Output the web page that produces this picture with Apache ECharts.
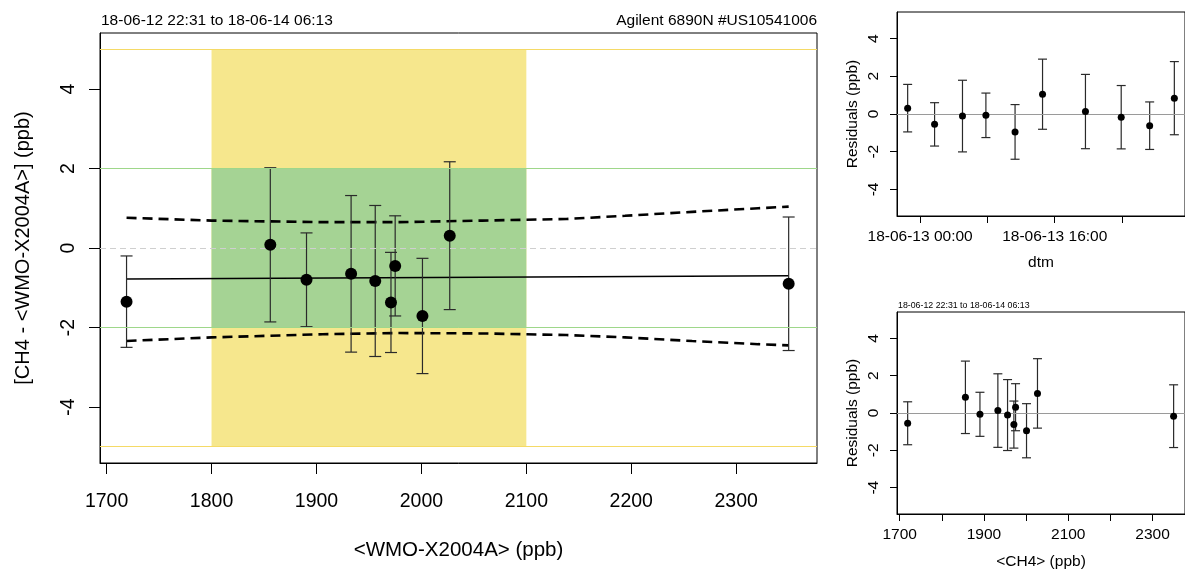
<!DOCTYPE html>
<html><head><meta charset="utf-8">
<script src="https://cdn.jsdelivr.net/npm/echarts@6/dist/echarts.min.js"></script>
<style>html,body{margin:0;padding:0;background:#fff}#c{width:1185px;height:571px}</style>
</head><body><div id="c"></div>
<script>
// ---- data ----
const ch4     = [1719, 1856, 1890.5, 1933, 1956, 1971, 1975, 2001, 2027, 2350];
const diff    = [-1.35, 0.08, -0.80, -0.65, -0.83, -1.37, -0.45, -1.71, 0.31, -0.90];
const errHalf = [1.15, 1.94, 1.18, 1.97, 1.90, 1.26, 1.26, 1.45, 1.86, 1.68];
const resid   = [-0.55, 0.84, -0.07, 0.13, -0.11, -0.62, 0.31, -0.95, 1.05, -0.17];
const dtm     = ['2018-06-13 01:43','2018-06-14 06:13','2018-06-13 07:49','2018-06-13 19:39','2018-06-13 05:02',
                 '2018-06-14 03:17','2018-06-12 22:31','2018-06-13 11:17','2018-06-13 14:33','2018-06-13 23:54'];
const fitX    = [1719, 2350];
const fitY    = [-0.78, -0.70];
const bandX     = [1719, 1800, 1906, 1979, 2058, 2138, 2194, 2258, 2321, 2350];
const bandUpper = [0.76, 0.69, 0.65, 0.65, 0.69, 0.73, 0.81, 0.91, 1.00, 1.04];
const bandLower = [-2.34, -2.25, -2.17, -2.14, -2.15, -2.19, -2.25, -2.34, -2.42, -2.45];
const xTicks      = [1700, 1800, 1900, 2000, 2100, 2200, 2300];
const xTicksLabSm = [1700, 1900, 2100, 2300];
const yTicks      = [-4, -2, 0, 2, 4];
const timeTicks   = ['2018-06-13 00:00','2018-06-13 08:00','2018-06-13 16:00','2018-06-14 00:00'];
const timeLabels  = ['2018-06-13 00:00','2018-06-13 16:00'];
const xRange    = [1693.7, 2377];
const yRange    = [-5.41, 5.41];
const timeRange = ['2018-06-12 21:15','2018-06-14 07:29'];
const tolOuter = [1800, 2100, -5, 5];
const tolInner = [1800, 2100, -2, 2];
const titleLeft  = '18-06-12 22:31 to 18-06-14 06:13';
const titleRight = 'Agilent 6890N #US10541006';

// ---- helpers ----
function toMs(s){const [d,t]=s.split(' ');const [Y,M,D]=d.split('-').map(Number);const [h,m]=t.split(':').map(Number);return Date.UTC(Y,M-1,D,h,m);}
function p2(n){return (n<10?'0':'')+n;}
function fmtTime(v){const d=new Date(v);return p2(d.getUTCFullYear()%100)+'-'+p2(d.getUTCMonth()+1)+'-'+p2(d.getUTCDate())+' '+p2(d.getUTCHours())+':'+p2(d.getUTCMinutes());}
function fmtNum(v){return String(Math.round(v));}
function errItem(capHalf){return function(params, api){
  const x=api.value(0), lo=api.value(1), hi=api.value(2);
  const a=api.coord([x,hi]), b=api.coord([x,lo]);
  const st={stroke:'#2a2a2a',lineWidth:1.2};
  return {type:'group',children:[
    {type:'line',shape:{x1:a[0],y1:a[1],x2:b[0],y2:b[1]},style:st},
    {type:'line',shape:{x1:a[0]-capHalf,y1:a[1],x2:a[0]+capHalf,y2:a[1]},style:st},
    {type:'line',shape:{x1:b[0]-capHalf,y1:b[1],x2:b[0]+capHalf,y2:b[1]},style:st}]};
};}

const FONT='"Liberation Sans", Arial, sans-serif';
const mainPts = ch4.map((x,i)=>[x,diff[i]]);
const mainErr = ch4.map((x,i)=>[x,diff[i]-errHalf[i],diff[i]+errHalf[i]]);
const tms = dtm.map(toMs);
const trPts = tms.map((t,i)=>[t,resid[i]]);
const trErr = tms.map((t,i)=>[t,resid[i]-errHalf[i],resid[i]+errHalf[i]]);
const brPts = ch4.map((x,i)=>[x,resid[i]]);
const brErr = ch4.map((x,i)=>[x,resid[i]-errHalf[i],resid[i]+errHalf[i]]);

const lbl = {color:'#000',fontFamily:FONT};
function yAx(gi, fs, margin, tickLen, name, nameGap, nameFs){
  return {type:'value',gridIndex:gi,min:yRange[0],max:yRange[1],
    axisLine:{show:true,onZero:false,lineStyle:{color:'#000'}},
    axisTick:{show:true,length:tickLen,lineStyle:{color:'#000'},customValues:yTicks},
    axisLabel:Object.assign({fontSize:fs,margin:margin,rotate:90,customValues:yTicks,formatter:fmtNum},lbl),
    splitLine:{show:false},
    name:name,nameLocation:'middle',nameRotate:90,nameGap:nameGap,
    nameTextStyle:{fontSize:nameFs,color:'#000',fontFamily:FONT}};
}
const ttl = (fs)=>({fontSize:fs,fontWeight:'normal',color:'#000',fontFamily:FONT});

const option = {
  animation:false,
  textStyle:{fontFamily:FONT},
  title:[
    {text:titleLeft,left:101,top:13,padding:0,textStyle:ttl(15.5)},
    {text:titleRight,right:368,top:13,padding:0,textStyle:ttl(15.5)},
    {text:titleLeft,left:898,top:301,padding:0,textStyle:ttl(8.8)}
  ],
  grid:[
    {left:100,top:33,right:368,bottom:108,show:true,borderColor:'#000',borderWidth:1,backgroundColor:'transparent'},
    {left:897,top:12,right:-3,bottom:355,show:true,borderColor:'#000',borderWidth:1,backgroundColor:'transparent'},
    {left:897,top:312,right:-3,bottom:54,show:true,borderColor:'#000',borderWidth:1,backgroundColor:'transparent'}
  ],
  xAxis:[
    {type:'value',gridIndex:0,min:xRange[0],max:xRange[1],
      axisLine:{show:true,onZero:false,lineStyle:{color:'#000'}},
      axisTick:{show:true,length:11,lineStyle:{color:'#000'},customValues:xTicks},
      axisLabel:Object.assign({fontSize:19.5,margin:29,customValues:xTicks,formatter:fmtNum},lbl),
      splitLine:{show:false},
      name:'<WMO-X2004A> (ppb)',nameLocation:'middle',nameGap:77,
      nameTextStyle:{fontSize:20.5,color:'#000',fontFamily:FONT}},
    {type:'value',gridIndex:1,min:toMs(timeRange[0]),max:toMs(timeRange[1]),
      axisLine:{show:true,onZero:false,lineStyle:{color:'#000'}},
      axisTick:{show:true,length:7,lineStyle:{color:'#000'},customValues:timeTicks.map(toMs)},
      axisLabel:Object.assign({fontSize:15.5,margin:13,customValues:timeLabels.map(toMs),formatter:fmtTime},lbl),
      splitLine:{show:false},
      name:'dtm',nameLocation:'middle',nameGap:39,
      nameTextStyle:{fontSize:15.5,color:'#000',fontFamily:FONT}},
    {type:'value',gridIndex:2,min:xRange[0],max:xRange[1],
      axisLine:{show:true,onZero:false,lineStyle:{color:'#000'}},
      axisTick:{show:true,length:7,lineStyle:{color:'#000'},customValues:xTicks},
      axisLabel:Object.assign({fontSize:15.5,margin:12.5,customValues:xTicksLabSm,formatter:fmtNum},lbl),
      splitLine:{show:false},
      name:'<CH4> (ppb)',nameLocation:'middle',nameGap:40,
      nameTextStyle:{fontSize:15.5,color:'#000',fontFamily:FONT}}
  ],
  yAxis:[
    yAx(0,19.5,21,11,'[CH4 - <WMO-X2004A>] (ppb)',67,20),
    yAx(1,15.5,15.5,7,'Residuals (ppb)',36,15.5),
    yAx(2,15.5,15.5,7,'Residuals (ppb)',36,15.5)
  ],
  series:[
    {type:'line',xAxisIndex:0,yAxisIndex:0,data:[],silent:true,z:1,
      markArea:{silent:true,label:{show:false},data:[
        [{coord:[tolOuter[0],tolOuter[2]],itemStyle:{color:'#F6E78D'}},{coord:[tolOuter[1],tolOuter[3]]}],
        [{coord:[tolInner[0],tolInner[2]],itemStyle:{color:'#A5D394'}},{coord:[tolInner[1],tolInner[3]]}]
      ]},
      markLine:{silent:true,symbol:'none',label:{show:false},data:[
        {yAxis:tolOuter[3],lineStyle:{color:'#F5DA66',type:'solid',width:1.2}},
        {yAxis:tolOuter[2],lineStyle:{color:'#F5DA66',type:'solid',width:1.2}},
        {yAxis:tolInner[3],lineStyle:{color:'#9ED78A',type:'solid',width:1}},
        {yAxis:tolInner[2],lineStyle:{color:'#9ED78A',type:'solid',width:1}},
        {yAxis:0,lineStyle:{color:'#cfcfcf',type:[6,4],width:1}}
      ]}},
    {type:'line',xAxisIndex:0,yAxisIndex:0,data:fitX.map((x,i)=>[x,fitY[i]]),showSymbol:false,silent:true,z:3,
      lineStyle:{color:'#000',width:1.6}},
    {type:'line',xAxisIndex:0,yAxisIndex:0,data:bandX.map((x,i)=>[x,bandUpper[i]]),showSymbol:false,silent:true,z:3,
      lineStyle:{color:'#000',width:2.6,type:[10,6]}},
    {type:'line',xAxisIndex:0,yAxisIndex:0,data:bandX.map((x,i)=>[x,bandLower[i]]),showSymbol:false,silent:true,z:3,
      lineStyle:{color:'#000',width:2.6,type:[10,6]}},
    {type:'custom',xAxisIndex:0,yAxisIndex:0,data:mainErr,renderItem:errItem(6),encode:{x:0,y:[1,2]},z:4,silent:true},
    {type:'scatter',xAxisIndex:0,yAxisIndex:0,data:mainPts,symbolSize:12,itemStyle:{color:'#000',opacity:1},z:5,silent:true},

    {type:'line',xAxisIndex:1,yAxisIndex:1,data:[],silent:true,
      markLine:{silent:true,symbol:'none',label:{show:false},data:[{yAxis:0,lineStyle:{color:'#9a9a9a',type:'solid',width:1}}]}},
    {type:'custom',xAxisIndex:1,yAxisIndex:1,data:trErr,renderItem:errItem(4.5),encode:{x:0,y:[1,2]},z:4,silent:true},
    {type:'scatter',xAxisIndex:1,yAxisIndex:1,data:trPts,symbolSize:7,itemStyle:{color:'#000',opacity:1},z:5,silent:true},

    {type:'line',xAxisIndex:2,yAxisIndex:2,data:[],silent:true,
      markLine:{silent:true,symbol:'none',label:{show:false},data:[{yAxis:0,lineStyle:{color:'#9a9a9a',type:'solid',width:1}}]}},
    {type:'custom',xAxisIndex:2,yAxisIndex:2,data:brErr,renderItem:errItem(4.5),encode:{x:0,y:[1,2]},z:4,silent:true},
    {type:'scatter',xAxisIndex:2,yAxisIndex:2,data:brPts,symbolSize:7,itemStyle:{color:'#000',opacity:1},z:5,silent:true}
  ]
};
echarts.init(document.getElementById('c'),null,{renderer:'canvas'}).setOption(option);
</script></body></html>
